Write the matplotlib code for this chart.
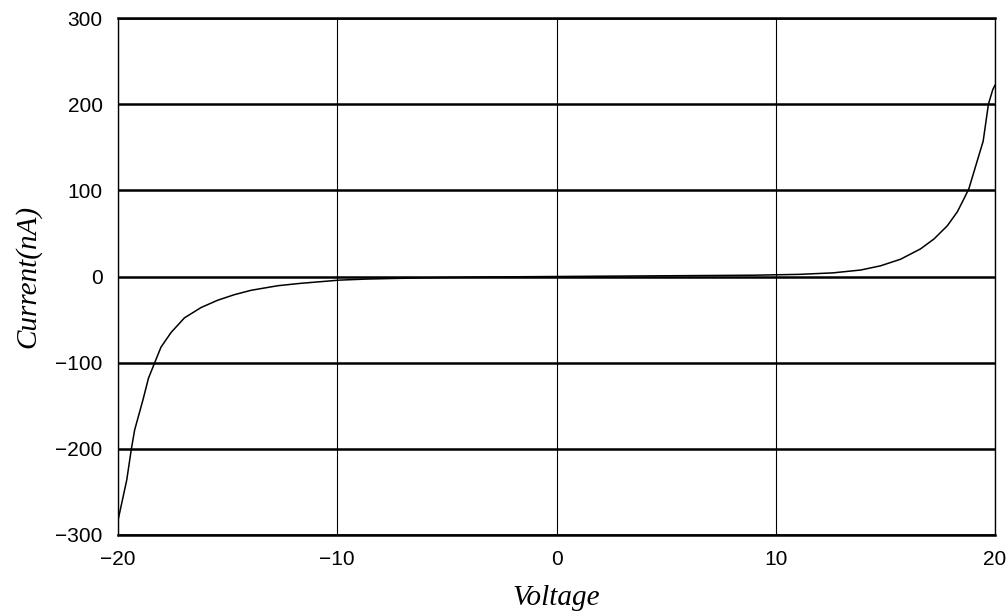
import matplotlib
matplotlib.use("Agg")
import matplotlib.pyplot as plt

voltage = [-20.0, -19.6, -19.39, -19.24, -18.86, -18.61, -18.31, -18.04, -17.58, -16.97,
           -16.21, -15.45, -14.68, -13.93, -12.71, -11.7, -9.9, -8.7, -6.0, -3.0,
           0.0, 3.0, 6.0, 9.0, 11.1, 12.6, 13.87, 14.78, 15.69, 16.6, 17.22, 17.83,
           18.28, 18.58, 18.81, 19.04, 19.27, 19.46, 19.7, 19.9, 20.0]
current = [-283, -236, -200, -178, -143, -118, -99, -82, -65, -48,
           -36, -27.5, -21, -16, -10.7, -8, -4.2, -3, -1.5, -0.5,
           0, 0.5, 1, 1.5, 2.5, 4.2, 7.5, 12.4, 20, 32, 43.6, 59,
           75, 90, 102, 121.5, 141, 157, 200, 217, 222]

x_ticks = [-20, -10, 0, 10, 20]
x_tick_labels = ["\u221220", "\u221210", "0", "10", "20"]
y_ticks = [-300, -200, -100, 0, 100, 200, 300]
y_tick_labels = ["\u2212300", "\u2212200", "\u2212100", "0", "100", "200", "300"]

fig = plt.figure(figsize=(10.06, 6.16), dpi=100)
ax = fig.add_axes([118/1006, (616-535)/616, (995-118)/1006, (535-18)/616])

ax.plot(voltage, current, color="black", lw=1.1, zorder=3)

ax.set_xlim(-20, 20)
ax.set_ylim(-300, 300)
ax.set_xticks(x_ticks)
ax.set_xticklabels(x_tick_labels)
ax.set_yticks(y_ticks)
ax.set_yticklabels(y_tick_labels)

ax.yaxis.grid(True, color="black", lw=1.8)
ax.xaxis.grid(True, color="black", lw=0.8)
ax.set_axisbelow(False)

ax.tick_params(axis="both", length=0, labelsize=15)
ax.tick_params(axis="x", pad=11)
ax.tick_params(axis="y", pad=11)
for lab in ax.get_xticklabels() + ax.get_yticklabels():
    lab.set_family("Liberation Sans")

for side, w in [("top", 1.8), ("bottom", 1.8), ("left", 1.0), ("right", 1.0)]:
    ax.spines[side].set_linewidth(w)
    ax.spines[side].set_color("black")

ax.set_xlabel("Voltage", family="Liberation Serif", style="italic", fontsize=21, labelpad=11)
ax.set_ylabel("Current(nA)", family="Liberation Serif", style="italic", fontsize=21, labelpad=10)

fig.savefig("out.png", dpi=100)
